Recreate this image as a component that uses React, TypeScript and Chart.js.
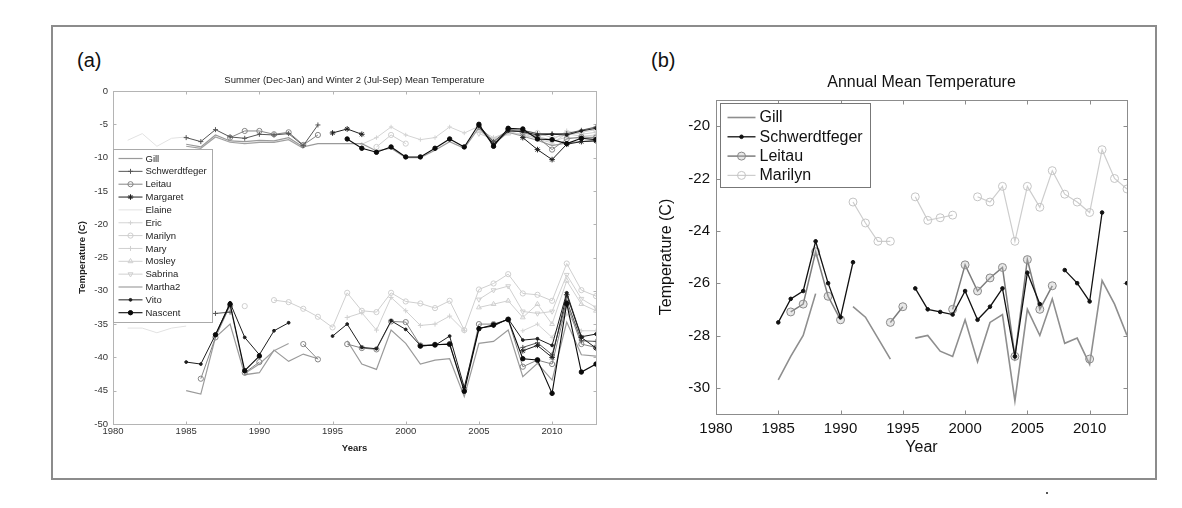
import React, { useEffect, useRef } from 'react';
import { Chart, registerables } from 'chart.js';

Chart.register(...registerables);

const FONT = '"Liberation Sans", Arial, Helvetica, sans-serif';
const _ = null;

// ---------- shared axis values ----------
const YEARS = [
  1980, 1981, 1982, 1983, 1984, 1985, 1986, 1987, 1988, 1989,
  1990, 1991, 1992, 1993, 1994, 1995, 1996, 1997, 1998, 1999,
  2000, 2001, 2002, 2003, 2004, 2005, 2006, 2007, 2008, 2009,
  2010, 2011, 2012, 2013,
];
const X_TICKS = [1980, 1985, 1990, 1995, 2000, 2005, 2010];
const Y_TICKS_A = [0, -5, -10, -15, -20, -25, -30, -35, -40, -45, -50];
const Y_TICKS_B = [-30, -28, -26, -24, -22, -20];

// ---------- panel (a): summer (upper) values ----------
const GILL_SUMMER = [_, _, _, _, _, -8.0, -8.4, -6.6, -7.5, -7.6, -7.4, -7.5, -7.0, -8.4, -7.9, -7.9, -7.9, -7.9, -9.0, -8.6, -10.0, -10.0, -8.9, -7.6, -8.6, -5.5, -8.0, -6.2, -6.8, -7.4, -8.2, -7.8, -7.6, -7.4];
const SCHWERDTFEGER_SUMMER = [_, _, _, _, _, -7.0, -7.6, -5.8, -6.9, -7.1, -6.5, -6.6, -6.4, -8.2, -5.1, _, _, _, _, _, _, _, _, _, _, -5.2, -7.6, -5.8, -5.9, -6.4, -6.4, -6.4, -5.9, -5.4];
const LEITAU_SUMMER = [_, _, _, _, _, _, _, _, -7.0, -6.0, -6.0, -6.5, -6.2, -8.1, -6.6, _, _, _, _, _, _, _, _, _, _, -5.4, -7.8, -5.8, -6.2, -6.9, -8.8, -7.2, -6.9, -7.0];
const MARGARET_SUMMER = [_, _, _, _, _, _, _, _, _, _, _, _, _, _, _, -6.3, -5.7, -6.5, _, _, _, _, _, _, _, _, _, _, -7.0, -8.8, -10.3, -8.0, -7.6, -7.5];
const ELAINE_SUMMER = [_, -7.4, -6.4, -8.3, -7.1, -6.9, _, _, _, _, _, _, _, _, _, _, _, _, _, _, _, _, _, _, _, _, _, _, _, _, _, _, _, _];
const ERIC_SUMMER = [_, _, _, _, _, _, _, _, _, _, _, _, _, _, _, _, _, -8.0, -7.0, -5.4, -6.6, -7.3, -7.0, -5.4, -6.3, -5.3, _, _, _, _, _, _, _, _];
const MARILYN_SUMMER = [_, _, _, _, _, _, _, _, _, _, _, _, _, _, _, _, _, _, -8.4, -6.6, -7.9, _, _, _, _, _, _, _, -6.0, -6.3, -7.0, -6.6, -6.2, -5.8];
const MARY_SUMMER = [_, _, _, _, _, _, _, _, _, _, _, _, _, _, _, _, _, _, _, _, _, _, _, _, _, -5.8, -7.0, -6.2, -6.0, -6.8, -7.4, -6.0, -6.5, -6.2];
const MOSLEY_SUMMER = [_, _, _, _, _, _, _, _, _, _, _, _, _, _, _, _, _, _, _, _, _, _, _, _, _, -6.0, -7.4, -6.4, -6.4, -7.2, -7.8, -6.4, -6.8, -6.6];
const SABRINA_SUMMER = [_, _, _, _, _, _, _, _, _, _, _, _, _, _, _, _, _, _, _, _, _, _, _, _, _, -6.4, -7.2, -6.0, -6.7, -7.0, -7.6, -6.9, -7.2, -6.8];
const MARTHA2_SUMMER = [_, _, _, _, _, -8.3, -8.6, -6.9, -7.7, -7.9, -7.7, -7.7, -7.3, -8.6, _, _, _, _, _, _, _, _, _, _, _, _, _, _, _, _, _, _, _, _];
const VITO_SUMMER = [_, _, _, _, _, _, _, _, _, _, _, _, _, _, _, _, _, _, _, _, _, _, _, _, _, -5.3, -8.0, -6.0, -6.1, -6.6, -6.5, -6.6, -6.0, -5.6];
const NASCENT_SUMMER = [_, _, _, _, _, _, _, _, _, _, _, _, _, _, _, _, -7.2, -8.6, -9.2, -8.4, -9.9, -9.9, -8.6, -7.2, -8.4, -5.0, -8.3, -5.6, -5.7, -7.2, -7.3, -7.9, -7.1, -7.3];

// ---------- panel (a): winter 2 (lower) values ----------
const GILL_WINTER = [_, _, _, _, _, -45.0, -45.5, -37.0, -35.0, -42.6, -42.3, -38.9, -40.6, -39.5, -40.2, _, -37.5, -41.0, -41.8, -35.9, -37.9, -41.0, -40.4, -40.2, -45.9, -37.9, -37.6, -35.9, -42.9, -40.9, -43.4, -34.7, -39.6, -39.8];
const SCHWERDTFEGER_WINTER = [_, _, _, _, _, _, _, -33.4, -33.2, _, _, _, _, _, _, _, _, _, _, _, _, _, _, _, _, _, _, _, -38.5, -37.8, -39.6, -31.5, -37.5, -37.6];
const LEITAU_WINTER = [_, _, _, _, _, _, -43.2, -37.0, -32.2, -42.3, -40.7, _, _, -38.0, -40.3, _, -38.0, -38.6, -38.8, -34.6, -34.7, -38.2, -38.1, -38.0, -44.8, -35.0, -35.0, -34.3, -41.4, -40.4, -41.0, -32.0, -38.0, -38.5];
const MARGARET_WINTER = [_, _, _, _, _, _, _, _, _, _, _, _, _, _, _, _, _, _, _, _, _, _, _, _, _, _, _, _, -39.0, -38.2, -40.0, -30.6, -37.0, -38.6];
const ELAINE_WINTER = [_, -35.6, -35.6, -36.3, -35.6, -35.3, _, _, _, _, _, _, _, _, _, _, _, _, _, _, _, _, _, _, _, _, _, _, _, _, _, _, _, _];
const ERIC_WINTER = [_, _, _, _, _, _, _, _, _, _, _, _, _, _, _, _, _, _, _, _, _, _, _, _, _, _, _, _, -36.0, -35.0, -37.0, -33.5, -36.0, -36.0];
const MARILYN_WINTER = [_, _, _, _, _, _, _, _, _, -32.3, _, -31.4, -31.7, -32.7, -33.9, -35.5, -30.3, -33.0, -33.2, -30.3, -31.6, -31.9, -32.6, -31.5, -35.9, -29.8, -28.9, -27.5, -30.4, -30.6, -31.5, -25.9, -29.9, -30.8];
const MARY_WINTER = [_, _, _, _, _, _, _, _, _, _, _, _, _, _, _, _, -34.0, -33.3, -35.9, -31.0, -33.0, -35.2, -35.0, -33.8, -36.0, _, _, _, _, _, _, _, _, _];
const MOSLEY_WINTER = [_, _, _, _, _, _, _, _, _, _, _, _, _, _, _, _, _, _, _, _, _, _, _, _, _, -32.5, -32.0, -31.5, -34.0, -32.0, -35.0, -28.5, -32.0, -33.0];
const SABRINA_WINTER = [_, _, _, _, _, _, _, _, _, _, _, _, _, _, _, _, _, _, _, _, _, _, _, _, _, -31.3, -29.9, -29.3, -33.1, -33.4, -33.1, -27.6, -31.2, -32.5];
const MARTHA2_WINTER = [_, _, _, _, _, _, _, _, _, -42.4, -41.0, -39.0, -37.9, _, _, _, _, _, _, _, _, _, _, _, _, _, _, _, _, _, _, _, _, _];
const VITO_WINTER = [_, _, _, _, _, -40.7, -41.0, -36.6, -31.8, -37.0, -39.6, -36.0, -34.8, _, _, -36.8, -35.0, -38.5, -38.7, -34.5, -35.8, -38.2, -38.2, -36.8, -44.5, -35.6, -35.3, -34.2, -37.4, -37.2, -38.2, -30.3, -36.9, -36.5];
const NASCENT_WINTER = [_, _, _, _, _, _, _, -36.6, -32.0, -42.0, -39.8, _, _, _, _, _, _, _, _, _, _, -38.3, -38.1, -38.0, -45.1, -35.7, -35.1, -34.3, -40.2, -40.4, -45.4, -31.9, -42.2, -41.0];

// ---------- panel (b): annual mean values ----------
const GILL_ANNUAL = [_, _, _, _, _, -29.7, -28.8, -28.0, -26.4, _, _, -26.9, -27.3, -28.1, -28.9, _, -28.1, -28.0, -28.6, -28.8, -27.4, -29.0, -27.5, -27.2, -30.5, -27.0, -28.0, -26.6, -28.3, -28.1, -29.1, -25.9, -26.8, -28.0];
const SCHWERDTFEGER_ANNUAL = [_, _, _, _, _, -27.5, -26.6, -26.3, -24.4, -26.0, -27.3, -25.2, _, _, _, _, -26.2, -27.0, -27.1, -27.2, -26.3, -27.4, -26.9, -26.2, -28.8, -25.6, -26.8, _, -25.5, -26.0, -26.7, -23.3, _, -26.0];
const LEITAU_ANNUAL = [_, _, _, _, _, _, -27.1, -26.8, -24.8, -26.5, -27.4, _, _, _, -27.5, -26.9, _, _, _, -27.0, -25.3, -26.3, -25.8, -25.4, -28.8, -25.1, -27.0, -26.1, _, _, -28.9, _, _, _];
const MARILYN_ANNUAL = [_, _, _, _, _, _, _, _, _, _, _, -22.9, -23.7, -24.4, -24.4, _, -22.7, -23.6, -23.5, -23.4, _, -22.7, -22.9, -22.3, -24.4, -22.3, -23.1, -21.7, -22.6, -22.9, -23.3, -20.9, -22.0, -22.4];

// ---------- names ----------
const NAMES_A = ['Gill', 'Schwerdtfeger', 'Leitau', 'Margaret', 'Elaine', 'Eric', 'Marilyn', 'Mary', 'Mosley', 'Sabrina', 'Martha2', 'Vito', 'Nascent'];
const NAMES_B = ['Gill', 'Schwerdtfeger', 'Leitau', 'Marilyn'];

const SERIES_A: Record<string, (number | null)[][]> = {
  Gill: [GILL_SUMMER, GILL_WINTER],
  Schwerdtfeger: [SCHWERDTFEGER_SUMMER, SCHWERDTFEGER_WINTER],
  Leitau: [LEITAU_SUMMER, LEITAU_WINTER],
  Margaret: [MARGARET_SUMMER, MARGARET_WINTER],
  Elaine: [ELAINE_SUMMER, ELAINE_WINTER],
  Eric: [ERIC_SUMMER, ERIC_WINTER],
  Marilyn: [MARILYN_SUMMER, MARILYN_WINTER],
  Mary: [MARY_SUMMER, MARY_WINTER],
  Mosley: [MOSLEY_SUMMER, MOSLEY_WINTER],
  Sabrina: [SABRINA_SUMMER, SABRINA_WINTER],
  Martha2: [MARTHA2_SUMMER, MARTHA2_WINTER],
  Vito: [VITO_SUMMER, VITO_WINTER],
  Nascent: [NASCENT_SUMMER, NASCENT_WINTER],
};
const SERIES_B: Record<string, (number | null)[]> = {
  Gill: GILL_ANNUAL,
  Schwerdtfeger: SCHWERDTFEGER_ANNUAL,
  Leitau: LEITAU_ANNUAL,
  Marilyn: MARILYN_ANNUAL,
};

// ---------- styles ----------
type Sty = { color: string; width: number; marker?: string; r?: number; fill?: string; mcolor?: string; rot?: number };

const STYLE_A: Record<string, Sty> = {
  Gill: { color: '#9a9a9a', width: 1.2 },
  Schwerdtfeger: { color: '#555555', width: 1, marker: 'cross', r: 2.5 },
  Leitau: { color: '#858585', width: 1, marker: 'circle', r: 2.6, fill: 'rgba(0,0,0,0)' },
  Margaret: { color: '#202020', width: 1, marker: 'star', r: 2.8 },
  Elaine: { color: '#e2e2e2', width: 1 },
  Eric: { color: '#d4d4d4', width: 1, marker: 'cross', r: 2.2 },
  Marilyn: { color: '#cfcfcf', width: 1, marker: 'circle', r: 2.6, fill: 'rgba(0,0,0,0)' },
  Mary: { color: '#d0d0d0', width: 1, marker: 'cross', r: 2.5 },
  Mosley: { color: '#d0d0d0', width: 1, marker: 'triangle', r: 2.8, fill: 'rgba(0,0,0,0)' },
  Sabrina: { color: '#d0d0d0', width: 1, marker: 'triangle', r: 2.8, fill: 'rgba(0,0,0,0)', rot: 180 },
  Martha2: { color: '#a0a0a0', width: 1.2 },
  Vito: { color: '#1e1e1e', width: 1, marker: 'circle', r: 1.4 },
  Nascent: { color: '#0a0a0a', width: 1.1, marker: 'circle', r: 2.2 },
};
const DRAW_ORDER_A = ['Nascent', 'Vito', 'Margaret', 'Schwerdtfeger', 'Leitau', 'Gill', 'Martha2', 'Marilyn', 'Mary', 'Mosley', 'Sabrina', 'Eric', 'Elaine'];

const STYLE_B: Record<string, Sty> = {
  Gill: { color: '#8e8e8e', width: 1.6 },
  Schwerdtfeger: { color: '#111111', width: 1.3, marker: 'circle', r: 1.8 },
  Leitau: { color: '#7c7c7c', width: 1.5, marker: 'circle', r: 4, fill: 'rgba(190,190,190,0.35)', mcolor: '#8a8a8a' },
  Marilyn: { color: '#cdcdcd', width: 1.2, marker: 'circle', r: 4, fill: 'rgba(0,0,0,0)', mcolor: '#c4c4c4' },
};
const DRAW_ORDER_B = ['Schwerdtfeger', 'Leitau', 'Gill', 'Marilyn'];

function makeDataset(label: string, vals: (number | null)[], s: Sty) {
  return {
    label,
    data: YEARS.map((x, i) => ({ x, y: vals[i] })),
    borderColor: s.color,
    borderWidth: s.width,
    backgroundColor: s.color,
    pointStyle: s.marker || false,
    pointRadius: s.marker ? s.r : 0,
    pointBorderColor: s.mcolor || s.color,
    pointBackgroundColor: s.fill || s.mcolor || s.color,
    pointBorderWidth: 1,
    pointRotation: s.rot || 0,
    tension: 0,
    fill: false,
    spanGaps: false,
  };
}

function drawMarker(ctx: CanvasRenderingContext2D, s: Sty, x: number, y: number) {
  if (!s.marker) return;
  const r = s.r || 2;
  ctx.save();
  ctx.translate(x, y);
  ctx.rotate(((s.rot || 0) * Math.PI) / 180);
  ctx.strokeStyle = s.mcolor || s.color;
  ctx.fillStyle = s.fill || s.mcolor || s.color;
  ctx.lineWidth = 1;
  ctx.beginPath();
  if (s.marker === 'circle') {
    ctx.arc(0, 0, r, 0, Math.PI * 2);
    ctx.fill();
    ctx.stroke();
  } else if (s.marker === 'cross') {
    ctx.moveTo(-r, 0); ctx.lineTo(r, 0); ctx.moveTo(0, -r); ctx.lineTo(0, r);
    ctx.stroke();
  } else if (s.marker === 'star') {
    ctx.moveTo(-r, 0); ctx.lineTo(r, 0); ctx.moveTo(0, -r); ctx.lineTo(0, r);
    const d = r * 0.707;
    ctx.moveTo(-d, -d); ctx.lineTo(d, d); ctx.moveTo(-d, d); ctx.lineTo(d, -d);
    ctx.stroke();
  } else if (s.marker === 'triangle') {
    ctx.moveTo(0, -r); ctx.lineTo(r * 0.866, r * 0.5); ctx.lineTo(-r * 0.866, r * 0.5); ctx.closePath();
    ctx.fill();
    ctx.stroke();
  }
  ctx.restore();
}

type LegendCfg = { names: string[]; styles: Record<string, Sty>; dx: number; dy: number; w: number; h: number; first: number; row: number; l0: number; l1: number; tx: number; font: string; border: string; color: string };
type DecorCfg = {
  title: string; titleFont: string; titleY: number;
  xTitle: string; xTitleY: number; yTitle: string; yTitleX: number; axisTitleFont: string;
  axisColor: string; tickLen: number; textColor: string;
  xTicks: number[]; yTicks: number[]; legend: LegendCfg;
};

function makeDecor(cfg: DecorCfg) {
  return {
    id: 'decor',
    beforeDatasetsDraw(chart: any) {
      const { ctx, chartArea: a, scales } = chart;
      ctx.save();
      ctx.strokeStyle = cfg.axisColor;
      ctx.lineWidth = 1;
      const L = Math.round(a.left) + 0.5, T = Math.round(a.top) + 0.5;
      const R = Math.round(a.right) + 0.5, B = Math.round(a.bottom) + 0.5;
      ctx.strokeRect(L, T, R - L, B - T);
      ctx.beginPath();
      for (const v of cfg.xTicks) {
        const px = Math.round(scales.x.getPixelForValue(v)) + 0.5;
        ctx.moveTo(px, B); ctx.lineTo(px, B - cfg.tickLen);
        ctx.moveTo(px, T); ctx.lineTo(px, T + cfg.tickLen);
      }
      for (const v of cfg.yTicks) {
        const py = Math.round(scales.y.getPixelForValue(v)) + 0.5;
        ctx.moveTo(L, py); ctx.lineTo(L + cfg.tickLen, py);
        ctx.moveTo(R, py); ctx.lineTo(R - cfg.tickLen, py);
      }
      ctx.stroke();
      ctx.restore();
    },
    afterDatasetsDraw(chart: any) {
      const { ctx, chartArea: a } = chart;
      const lg = cfg.legend;
      const bx = Math.round(a.left + lg.dx) + 0.5, by = Math.round(a.top + lg.dy) + 0.5;
      ctx.save();
      ctx.fillStyle = '#ffffff';
      ctx.fillRect(bx, by, lg.w, lg.h);
      ctx.strokeStyle = lg.border;
      ctx.lineWidth = 1;
      ctx.strokeRect(bx, by, lg.w, lg.h);
      ctx.font = lg.font;
      ctx.textBaseline = 'middle';
      ctx.textAlign = 'left';
      lg.names.forEach((name, i) => {
        const s = lg.styles[name];
        const y = by + lg.first + i * lg.row;
        ctx.strokeStyle = s.color;
        ctx.lineWidth = s.width;
        ctx.beginPath();
        ctx.moveTo(bx + lg.l0, y);
        ctx.lineTo(bx + lg.l1, y);
        ctx.stroke();
        drawMarker(ctx, s, bx + (lg.l0 + lg.l1) / 2, y);
        ctx.fillStyle = lg.color;
        ctx.fillText(name, bx + lg.tx, y + 0.5);
      });
      ctx.restore();
    },
    afterDraw(chart: any) {
      const { ctx, chartArea: a } = chart;
      const cx = (a.left + a.right) / 2, cy = (a.top + a.bottom) / 2;
      ctx.save();
      ctx.fillStyle = cfg.textColor;
      ctx.textAlign = 'center';
      ctx.textBaseline = 'middle';
      ctx.font = cfg.titleFont;
      ctx.fillText(cfg.title, cx, cfg.titleY);
      ctx.font = cfg.axisTitleFont;
      ctx.fillText(cfg.xTitle, cx, cfg.xTitleY);
      ctx.translate(cfg.yTitleX, cy);
      ctx.rotate(-Math.PI / 2);
      ctx.fillText(cfg.yTitle, 0, 0);
      ctx.restore();
    },
  };
}

function scaleOpts(min: number, max: number, ticks: number[], font: any, color: string, padding: number, fitSize: number, horizontal: boolean) {
  return {
    type: 'linear',
    min,
    max,
    afterBuildTicks: (s: any) => { s.ticks = ticks.map((v) => ({ value: v })); },
    afterFit: (s: any) => { if (horizontal) s.height = fitSize; else s.width = fitSize; },
    grid: { display: false, drawTicks: false },
    border: { display: false },
    ticks: { font, color, padding, autoSkip: false, maxRotation: 0, callback: (v: any) => String(v) },
  };
}

function ChartA() {
  const ref = useRef<HTMLCanvasElement>(null);
  useEffect(() => {
    const datasets: any[] = [];
    for (const name of DRAW_ORDER_A) {
      const [summer, winter] = SERIES_A[name];
      datasets.push(makeDataset(name + ' summer', summer, STYLE_A[name]));
      datasets.push(makeDataset(name + ' winter', winter, STYLE_A[name]));
    }
    const tickFont = { family: FONT, size: 9.5 };
    const chart = new Chart(ref.current as HTMLCanvasElement, {
      type: 'line',
      data: { datasets },
      options: {
        animation: false,
        responsive: false,
        events: [],
        layout: { padding: { top: 51, right: 19, left: 0, bottom: 0 } },
        plugins: { legend: { display: false }, title: { display: false }, tooltip: { enabled: false } },
        scales: {
          x: scaleOpts(1980, 2013, X_TICKS, tickFont, '#333', 2, 46, true),
          y: scaleOpts(-50, 0, Y_TICKS_A, tickFont, '#333', 5, 58, false),
        },
      } as any,
      plugins: [
        makeDecor({
          title: 'Summer (Dec-Jan) and Winter 2 (Jul-Sep) Mean Temperature',
          titleFont: `9.5px ${FONT}`,
          titleY: 40,
          xTitle: 'Years',
          xTitleY: 408,
          yTitle: 'Temperature (C)',
          yTitleX: 27,
          axisTitleFont: `bold 9.5px ${FONT}`,
          axisColor: '#b4b4b4',
          tickLen: 3,
          textColor: '#222',
          xTicks: X_TICKS,
          yTicks: Y_TICKS_A,
          legend: {
            names: NAMES_A, styles: STYLE_A, dx: 0, dy: 58, w: 99, h: 173, first: 9, row: 12.85,
            l0: 5, l1: 29, tx: 32, font: `9.5px ${FONT}`, border: '#aaaaaa', color: '#222',
          },
        }) as any,
      ],
    });
    return () => chart.destroy();
  }, []);
  return <canvas ref={ref} width={560} height={430} style={{ width: 560, height: 430, display: 'block' }} />;
}

function ChartB() {
  const ref = useRef<HTMLCanvasElement>(null);
  useEffect(() => {
    const datasets = DRAW_ORDER_B.map((name) => makeDataset(name, SERIES_B[name], STYLE_B[name]));
    const tickFont = { family: FONT, size: 15 };
    const chart = new Chart(ref.current as HTMLCanvasElement, {
      type: 'line',
      data: { datasets },
      options: {
        animation: false,
        responsive: false,
        events: [],
        layout: { padding: { top: 60, right: 23, left: 0, bottom: 0 } },
        plugins: { legend: { display: false }, title: { display: false }, tooltip: { enabled: false } },
        scales: {
          x: scaleOpts(1980, 2013, X_TICKS, tickFont, '#111', 6, 56, true),
          y: scaleOpts(-31, -19, Y_TICKS_B, tickFont, '#111', 6, 91, false),
        },
      } as any,
      plugins: [
        makeDecor({
          title: 'Annual Mean Temperature',
          titleFont: `16px ${FONT}`,
          titleY: 43,
          xTitle: 'Year',
          xTitleY: 408,
          yTitle: 'Temperature (C)',
          yTitleX: 42,
          axisTitleFont: `16px ${FONT}`,
          axisColor: '#8c8c8c',
          tickLen: 4,
          textColor: '#111',
          xTicks: X_TICKS,
          yTicks: Y_TICKS_B,
          legend: {
            names: NAMES_B, styles: STYLE_B, dx: 4, dy: 3, w: 150, h: 84, first: 14, row: 19.3,
            l0: 7, l1: 35, tx: 39, font: `16px ${FONT}`, border: '#777777', color: '#111',
          },
        }) as any,
      ],
    });
    return () => chart.destroy();
  }, []);
  return <canvas ref={ref} width={525} height={430} style={{ width: 525, height: 430, display: 'block' }} />;
}

export default function App() {
  return (
    <div style={{ position: 'absolute', left: 0, top: 0, width: 1182, height: 508, background: '#ffffff', fontFamily: FONT, overflow: 'hidden' }}>
      <div style={{ position: 'absolute', left: 51, top: 25, width: 1106, height: 455, border: '2px solid #8c8c8c', boxSizing: 'border-box' }} />
      <div style={{ position: 'absolute', left: 77, top: 50, fontSize: 20, lineHeight: '20px', color: '#111' }}>(a)</div>
      <div style={{ position: 'absolute', left: 651, top: 50, fontSize: 20, lineHeight: '20px', color: '#111' }}>(b)</div>
      <div style={{ position: 'absolute', left: 55, top: 40, width: 560, height: 430 }}>
        <ChartA />
      </div>
      <div style={{ position: 'absolute', left: 625, top: 40, width: 525, height: 430 }}>
        <ChartB />
      </div>
      <div style={{ position: 'absolute', left: 1046, top: 492, width: 2, height: 2, background: '#555' }} />
    </div>
  );
}
